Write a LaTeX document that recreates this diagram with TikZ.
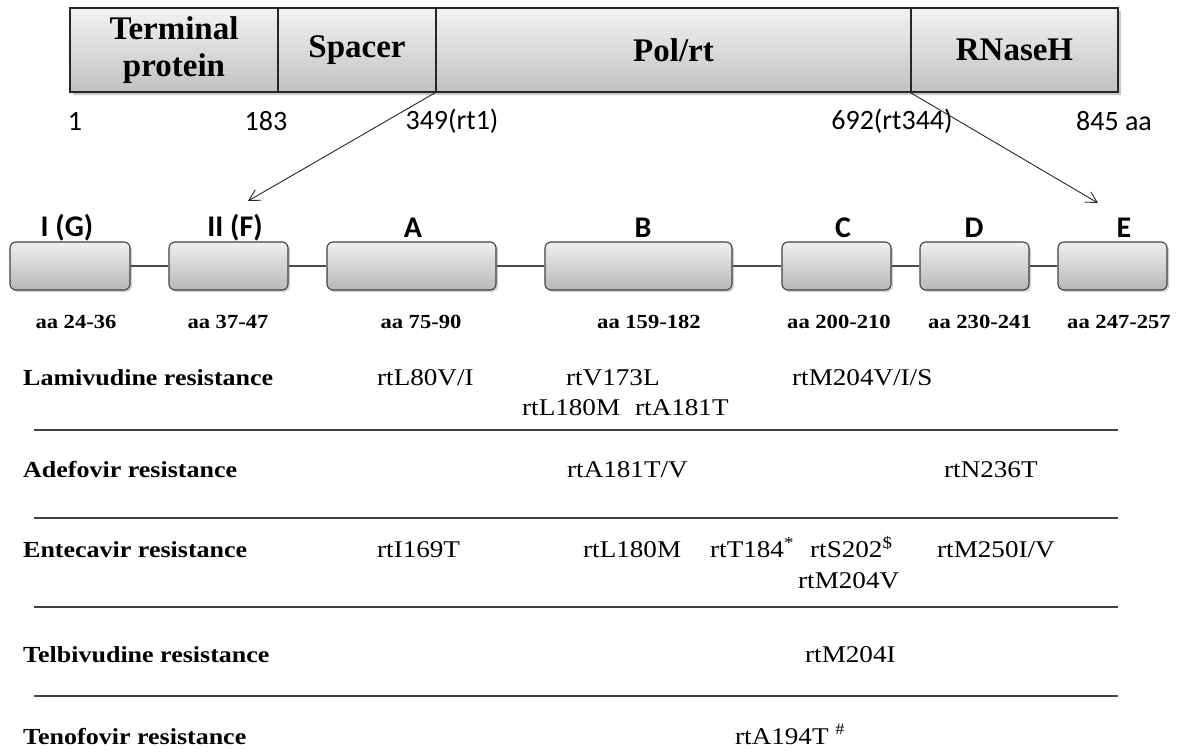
\documentclass[tikz,border=0pt]{standalone}
\usepackage{fontspec}
\usetikzlibrary{shadows,arrows.meta}
\newfontfamily\serifwide{Liberation Serif}[FakeStretch=1.13]
\newfontfamily\serifplain{Liberation Serif}
\newfontfamily\calsans{Carlito}

\begin{document}
\begin{tikzpicture}[x=1pt,y=-1pt,
  segbox/.style={draw=black!85, line width=1.2pt, top color=black!5, bottom color=black!24,
    minimum height=84pt, inner sep=0pt, anchor=center,
    drop shadow={shadow xshift=3pt, shadow yshift=-3pt, opacity=0.3, fill=black!70},
    font=\serifplain\bfseries\fontsize{33}{40}\selectfont, align=center},
  motifbox/.style={draw=black!75, line width=1.1pt, rounded corners=6pt,
    top color=black!6, bottom color=black!28, minimum height=48pt, inner sep=0pt,
    drop shadow={shadow xshift=2pt, shadow yshift=-2pt, opacity=0.25, fill=black!70}},
  posnum/.style={font=\calsans\fontsize{28}{30}\selectfont, inner sep=0pt},
  motifname/.style={font=\calsans\bfseries\fontsize{30}{32}\selectfont, inner sep=0pt},
  aarange/.style={font=\serifwide\bfseries\fontsize{20}{24}\selectfont, inner sep=0pt},
  druglabel/.style={font=\serifwide\bfseries\fontsize{23}{27}\selectfont, inner sep=0pt,
    anchor=west, text height=16pt, text depth=5pt},
  mutlabel/.style={font=\serifwide\fontsize{24}{28}\selectfont, inner sep=0pt,
    anchor=west, text height=16pt, text depth=5pt},
  motiflink/.style={draw=black!70, line width=1.3pt},
  zoomarrow/.style={draw=black!85, line width=0.9pt, -{Straight Barb[length=11pt,width=12pt]}},
  seprule/.style={draw=black!75, line width=1.4pt}
]
\useasboundingbox (0,0) rectangle (1184,753);

% polymerase domain bar
\node[segbox, minimum width=208pt] (tp)  at (174,50)   {\raisebox{-3pt}{\begin{tabular}{@{}c@{}}Terminal\\[-3pt]protein\end{tabular}}};
\node[segbox, minimum width=158pt] (sp)  at (357,50)   {Spacer};
\node[segbox, minimum width=475pt] (pol) at (673.5,50) {Pol/rt};
\node[segbox, minimum width=207pt] (rh)  at (1014.5,50){RNaseH};

% amino-acid positions
\node[posnum] (p1)   at (75,121)   {1};
\node[posnum] (p183) at (266,121)  {183};
\node[posnum] (p349) at (452,121)  {349(rt1)};
\node[posnum] (p692) at (892,121)  {692(rt344)};
\node[posnum] (p845) at (1114,121) {845 aa};

% conserved motifs of the rt domain
\node[motifbox, minimum width=120pt] (mI)  at (70,266)    {};
\node[motifbox, minimum width=119pt] (mII) at (228.5,266) {};
\node[motifbox, minimum width=169pt] (mA)  at (411.5,266) {};
\node[motifbox, minimum width=187pt] (mB)  at (638.5,266) {};
\node[motifbox, minimum width=109pt] (mC)  at (836.5,266) {};
\node[motifbox, minimum width=109pt] (mD)  at (974.5,266) {};
\node[motifbox, minimum width=109pt] (mE)  at (1112.5,266){};

\draw[motiflink] (mI.east) -- (mII.west);
\draw[motiflink] (mII.east) -- (mA.west);
\draw[motiflink] (mA.east) -- (mB.west);
\draw[motiflink] (mB.east) -- (mC.west);
\draw[motiflink] (mC.east) -- (mD.west);
\draw[motiflink] (mD.east) -- (mE.west);

\node[motifname] (lI)  at (67,228)   {I (G)};
\node[motifname] (lII) at (235,228)  {II (F)};
\node[motifname] (lA)  at (413,228)  {A};
\node[motifname] (lB)  at (643,228)  {B};
\node[motifname] (lC)  at (843,228)  {C};
\node[motifname] (lD)  at (974,228)  {D};
\node[motifname] (lE)  at (1124,228) {E};

\node[aarange] (rI)  at (76,322)   {aa 24-36};
\node[aarange] (rII) at (228,322)  {aa 37-47};
\node[aarange] (rA)  at (421,322)  {aa 75-90};
\node[aarange] (rB)  at (649,322)  {aa 159-182};
\node[aarange] (rC)  at (839,322)  {aa 200-210};
\node[aarange] (rD)  at (980,322)  {aa 230-241};
\node[aarange] (rE)  at (1119,322) {aa 247-257};

% zoom from the rt domain to the motifs
\coordinate (tipL) at (248,201);
\coordinate (tipR) at (1098,203);
\draw[zoomarrow] (pol.south west) -- (tipL);
\draw[zoomarrow] (rh.south west) -- (tipR);

% resistance table
\node[druglabel] (lam) at (23,380) {Lamivudine resistance};
\node[mutlabel] (lam1) at (377,380) {rtL80V/I};
\node[mutlabel] (lam2) at (566,380) {rtV173L};
\node[mutlabel] (lam3) at (792,380) {rtM204V/I/S};
\node[mutlabel] (lam4) at (522,410) {rtL180M};
\node[mutlabel] (lam5) at (635,410) {rtA181T};
\draw[seprule] (34,430) -- (1118,430);

\node[druglabel] (adv) at (23,472) {Adefovir resistance};
\node[mutlabel] (adv1) at (567,472) {rtA181T/V};
\node[mutlabel] (adv2) at (944,472) {rtN236T};
\draw[seprule] (34,518) -- (1118,518);

\node[druglabel] (etv) at (23,552) {Entecavir resistance};
\node[mutlabel] (etv1) at (377,552) {rtI169T};
\node[mutlabel] (etv2) at (583,552) {rtL180M};
\node[mutlabel] (etv3) at (710,552) {rtT184\textsuperscript{*}};
\node[mutlabel] (etv4) at (810,552) {rtS202\textsuperscript{\$}};
\node[mutlabel] (etv5) at (937,552) {rtM250I/V};
\node[mutlabel] (etv6) at (798,583) {rtM204V};
\draw[seprule] (34,607) -- (1118,607);

\node[druglabel] (ldt) at (23,657) {Telbivudine resistance};
\node[mutlabel] (ldt1) at (805,657) {rtM204I};
\draw[seprule] (34,696) -- (1118,696);

\node[druglabel] (tdf) at (23,739) {Tenofovir resistance};
\node[mutlabel] (tdf1) at (735,739) {rtA194T \raisebox{0.4em}{\fontsize{16}{16}\selectfont\#}};
\end{tikzpicture}
\end{document}
